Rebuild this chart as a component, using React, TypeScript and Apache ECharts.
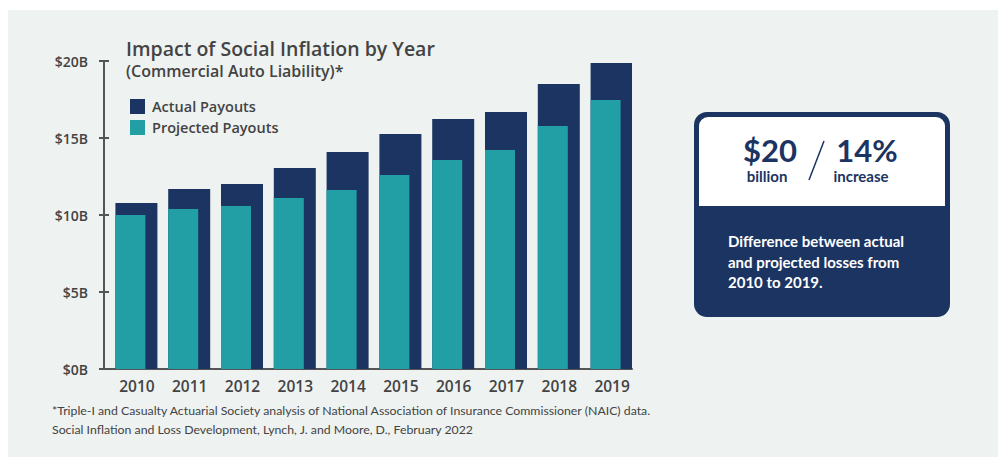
import React, { useEffect, useRef } from "react";
import * as echarts from "echarts";

const years = ["2010", "2011", "2012", "2013", "2014", "2015", "2016", "2017", "2018", "2019"];
const actualPayouts = [10.78, 11.69, 12.01, 13.05, 14.09, 15.26, 16.23, 16.69, 18.5, 19.87];
const projectedPayouts = [10.0, 10.39, 10.58, 11.1, 11.62, 12.6, 13.57, 14.22, 15.78, 17.47];
const yTicks = [0, 5, 10, 15, 20];

const NAVY = "#1b3461";
const TEAL = "#219fa5";
const TEXT = "#434343";
const BG = "#eef2f1";
const FONT = "'Open Sans', Lato, sans-serif";
const FONT2 = "Lato, 'Open Sans', sans-serif";

export default function App() {
  const ref = useRef<HTMLDivElement>(null);
  useEffect(() => {
    if (!ref.current) return;
    const chart = echarts.init(ref.current, null, { renderer: "svg" });
    const yAxisBase = {
      type: "value",
      min: yTicks[0],
      max: yTicks[yTicks.length - 1],
      interval: 5,
      splitLine: { show: false },
    };
    chart.setOption({
      animation: false,
      textStyle: { fontFamily: FONT },
      title: [
        {
          text: "Impact of Social Inflation by Year",
          left: 126,
          top: 37,
          padding: 0,
          textStyle: { fontFamily: FONT, fontSize: 19.5, lineHeight: 22, fontWeight: 600, color: TEXT },
        },
        {
          text: "(Commercial Auto Liability)*",
          left: 126,
          top: 62,
          padding: 0,
          textStyle: { fontFamily: FONT, fontSize: 16, lineHeight: 18, fontWeight: 600, color: TEXT },
        },
      ],
      legend: {
        left: 130,
        top: 99,
        orient: "vertical",
        itemWidth: 15,
        itemHeight: 15,
        itemGap: 6,
        padding: 0,
        icon: "rect",
        textStyle: { fontFamily: FONT, fontSize: 14.5, fontWeight: 600, color: TEXT, padding: [0, 0, 0, 2] },
        data: ["Actual Payouts", "Projected Payouts"],
      },
      grid: { left: 104, top: 61, width: 528, height: 308 },
      xAxis: {
        type: "category",
        data: years,
        axisLine: { lineStyle: { color: "#555", width: 2 } },
        axisTick: { show: false },
        axisLabel: {
          fontFamily: FONT,
          fontSize: 15.5,
          fontWeight: 600,
          color: TEXT,
          margin: 9,
          padding: [0, 0, 0, 13],
        },
      },
      yAxis: [
        {
          ...yAxisBase,
          axisLine: { show: true, lineStyle: { color: "#555", width: 2 } },
          axisTick: { show: true, length: 5, lineStyle: { color: "#555", width: 2 } },
          axisLabel: {
            fontFamily: FONT,
            fontSize: 14,
            fontWeight: 600,
            color: TEXT,
            margin: 16,
            formatter: (v: number) => "$" + v + "B",
          },
        },
        {
          ...yAxisBase,
          position: "left",
          axisLine: { show: false },
          axisTick: { show: true, inside: true, length: 5, lineStyle: { color: "#555", width: 2 } },
          axisLabel: { show: false },
        },
      ],
      series: [
        {
          name: "Actual Payouts",
          type: "bar",
          data: actualPayouts,
          barWidth: 42,
          barGap: "-100%",
          itemStyle: { color: NAVY },
        },
        {
          name: "Projected Payouts",
          type: "bar",
          data: projectedPayouts,
          barWidth: 30,
          barGap: "-100%",
          itemStyle: { color: TEAL },
        },
      ],
      graphic: [
        {
          type: "rect",
          z: -10,
          silent: true,
          shape: { x: 8, y: 10, width: 990, height: 460 },
          style: { fill: BG },
        },
        {
          type: "text",
          x: 52,
          y: 404,
          style: {
            text: "*Triple-I and Casualty Actuarial Society analysis of National Association of Insurance Commissioner (NAIC) data.",
            fontFamily: FONT2,
            fontSize: 12.3,
            fill: TEXT,
          },
        },
        {
          type: "text",
          x: 52,
          y: 423,
          style: {
            text: "Social Inflation and Loss Development, Lynch, J. and Moore, D., February 2022",
            fontFamily: FONT2,
            fontSize: 12.3,
            fill: TEXT,
          },
        },
        {
          type: "rect",
          shape: { x: 694, y: 112, width: 256, height: 205, r: 13 },
          style: { fill: NAVY },
        },
        {
          type: "rect",
          shape: { x: 699, y: 117, width: 246, height: 89, r: [9, 9, 0, 0] },
          style: { fill: "#ffffff" },
        },
        {
          type: "text",
          x: 770,
          y: 134,
          style: {
            text: "$20",
            fontFamily: FONT2,
            fontSize: 31,
            lineHeight: 31,
            fontWeight: "bold",
            fill: NAVY,
            align: "center",
          },
        },
        {
          type: "text",
          x: 767,
          y: 168,
          style: {
            text: "billion",
            fontFamily: FONT2,
            fontSize: 15,
            lineHeight: 15,
            fontWeight: "bold",
            fill: NAVY,
            align: "center",
          },
        },
        {
          type: "line",
          shape: { x1: 824, y1: 141, x2: 809, y2: 180 },
          style: { stroke: NAVY, lineWidth: 1.5 },
        },
        {
          type: "text",
          x: 867,
          y: 134,
          style: {
            text: "14%",
            fontFamily: FONT2,
            fontSize: 31,
            lineHeight: 31,
            fontWeight: "bold",
            fill: NAVY,
            align: "center",
          },
        },
        {
          type: "text",
          x: 861,
          y: 168,
          style: {
            text: "increase",
            fontFamily: FONT2,
            fontSize: 15,
            lineHeight: 15,
            fontWeight: "bold",
            fill: NAVY,
            align: "center",
          },
        },
        {
          type: "text",
          x: 728,
          y: 231,
          style: {
            text: "Difference between actual\nand projected losses from\n2010 to 2019.",
            fontFamily: FONT2,
            fontSize: 15,
            fontWeight: "bold",
            lineHeight: 20.5,
            fill: "#ffffff",
          },
        },
      ],
    });
    return () => chart.dispose();
  }, []);
  return (
    <div
      ref={ref}
      style={{ position: "absolute", left: 0, top: 0, width: 1002, height: 457, background: "#ffffff" }}
    />
  );
}
